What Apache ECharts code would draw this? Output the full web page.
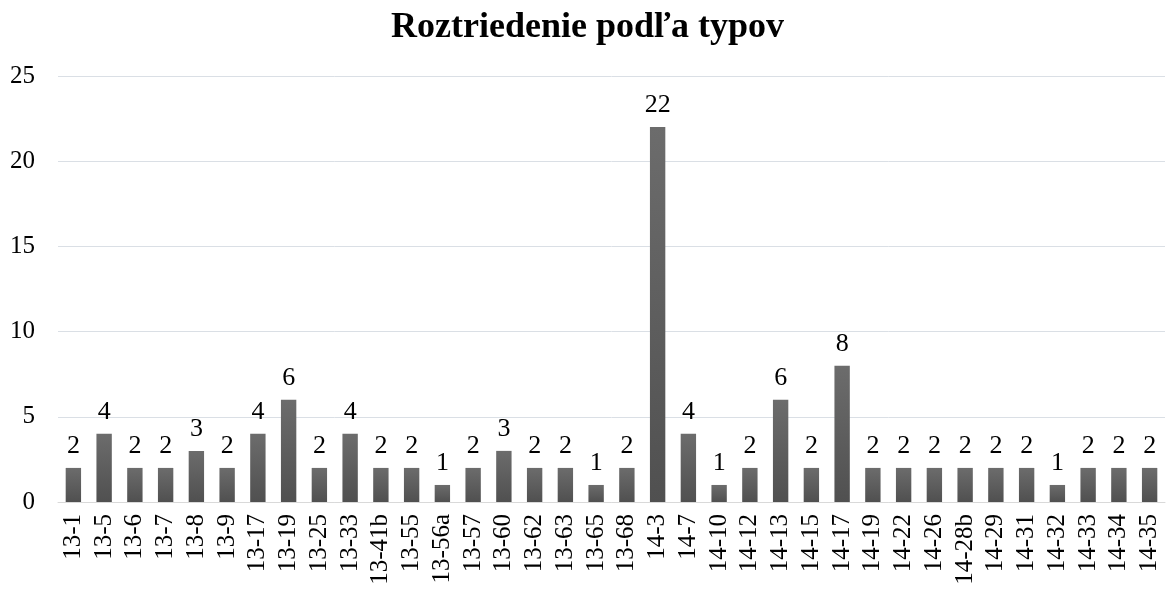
<!DOCTYPE html>
<html>
<head>
<meta charset="utf-8">
<script src="https://cdn.jsdelivr.net/npm/echarts@6/dist/echarts.min.js"></script>
<style>
  html, body { margin: 0; padding: 0; background: #fff; }
  #chart { width: 1175px; height: 589px; }
</style>
</head>
<body>
<div id="chart"></div>
<script>
// typy a pocty
const categories = ['13-1', '13-5', '13-6', '13-7', '13-8', '13-9', '13-17', '13-19', '13-25', '13-33',
  '13-41b', '13-55', '13-56a', '13-57', '13-60', '13-62', '13-63', '13-65', '13-68', '14-3',
  '14-7', '14-10', '14-12', '14-13', '14-15', '14-17', '14-19', '14-22', '14-26', '14-28b',
  '14-29', '14-31', '14-32', '14-33', '14-34', '14-35']
const counts = [2, 4, 2, 2, 3, 2, 4, 6, 2, 4,
  2, 2, 1, 2, 3, 2, 2, 1, 2, 22,
  4, 1, 2, 6, 2, 8, 2, 2, 2, 2,
  2, 2, 1, 2, 2, 2]
const yTicks = [0, 5, 10, 15, 20, 25]

const font = '"Liberation Serif", "DejaVu Serif", serif'
const chart = echarts.init(document.getElementById('chart'))

chart.setOption({
  animation: false,
  title: {
    text: 'Roztriedenie podľa typov',
    left: 'center',
    top: 5,
    textStyle: {
      fontFamily: font,
      fontSize: 36,
      fontWeight: 'bold',
      color: '#000'
    }
  },
  grid: {
    left: 58,
    right: 10,
    top: 76,
    bottom: 87
  },
  xAxis: {
    type: 'category',
    data: categories,
    axisTick: { show: false },
    axisLine: { lineStyle: { color: '#d9d9d9', width: 1 } },
    axisLabel: {
      rotate: 90,
      interval: 0,
      margin: 12,
      fontFamily: font,
      fontSize: 25,
      color: '#000'
    }
  },
  yAxis: {
    type: 'value',
    min: yTicks[0],
    max: yTicks[yTicks.length - 1],
    interval: 5,
    axisLine: { show: false },
    axisTick: { show: false },
    splitLine: { lineStyle: { color: '#dadfe5', width: 1 } },
    axisLabel: {
      margin: 23,
      fontFamily: font,
      fontSize: 25,
      color: '#000'
    }
  },
  series: [{
    type: 'bar',
    data: counts,
    barCategoryGap: '50%',
    itemStyle: {
      // jemny prechod sivej
      color: new echarts.graphic.LinearGradient(0, 0, 0, 1, [
        { offset: 0, color: '#6c6c6c' },
        { offset: 1, color: '#505050' }
      ])
    },
    label: {
      show: true,
      position: 'top',
      distance: 9,
      fontFamily: font,
      fontSize: 26,
      color: '#000'
    }
  }]
})
</script>
</body>
</html>
